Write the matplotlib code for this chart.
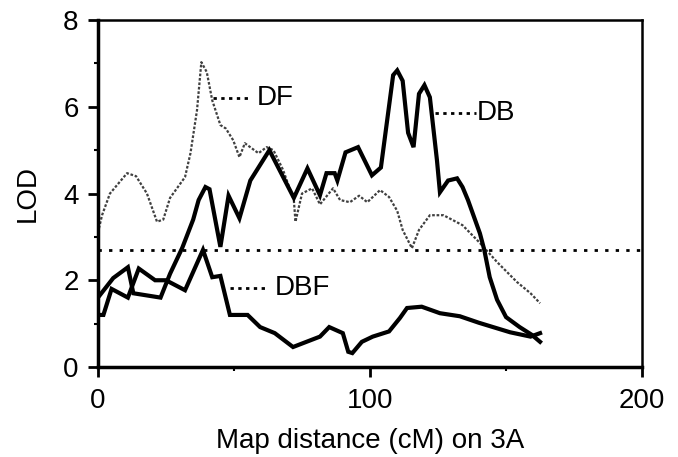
import matplotlib
matplotlib.use("Agg")
import matplotlib.pyplot as plt
from matplotlib.ticker import MultipleLocator

plt.rcParams['font.family'] = ['Liberation Sans', 'DejaVu Sans']

# ---- data ----
db_x = [0, 5.6, 11, 13, 23, 26.5, 31, 35, 37, 39.5, 41, 45, 48, 52, 56, 63, 72, 77, 81.6,
        84, 87, 88, 91, 95.6, 100.7, 104, 108.5, 110, 112, 114, 116, 118, 120, 122,
        124.6, 125.7, 128.7, 132, 134, 136, 140.4, 142, 144, 146.7, 150, 155, 159.5, 162.5]
db_y = [1.6, 2.05, 2.3, 1.7, 1.6, 2.15, 2.75, 3.4, 3.85, 4.15, 4.1, 2.77, 3.95, 3.43, 4.3,
        5.0, 3.9, 4.58, 3.96, 4.47, 4.47, 4.3, 4.95, 5.07, 4.42, 4.6, 6.73, 6.84, 6.6,
        5.4, 5.07, 6.3, 6.5, 6.22, 4.77, 4.03, 4.3, 4.35, 4.15, 3.85, 3.08, 2.7, 2.07,
        1.55, 1.15, 0.92, 0.74, 0.58]

dbf_x = [0, 2, 5, 11, 15, 21, 25, 32, 38.6, 42, 45, 48.5, 55, 59.6, 65, 71.7, 75.4, 81.6,
         85, 90, 92, 93.5, 97, 101, 107, 111, 113.6, 119, 125.7, 133, 140, 151.5, 159, 162.5]
dbf_y = [1.2, 1.2, 1.8, 1.6, 2.27, 2.0, 2.0, 1.77, 2.7, 2.07, 2.1, 1.2, 1.2, 0.92, 0.78,
         0.46, 0.55, 0.7, 0.92, 0.78, 0.35, 0.32, 0.58, 0.7, 0.82, 1.13, 1.36, 1.39, 1.24,
         1.17, 1.02, 0.8, 0.7, 0.78]

df_x = [0, 1.5, 4.4, 10.7, 14, 18, 21.7, 24, 26.5, 32, 34, 36.4, 38, 40, 42, 45, 47, 49.7,
        52, 54, 59, 62, 64.5, 68, 72, 72.6, 75, 78.7, 81.6, 86.4, 89, 92.6, 96, 99, 103.7,
        107, 110, 112, 115.4, 118, 122, 127, 134, 140.4, 146.7, 154, 159, 162.5]
df_y = [3.1, 3.5, 4.0, 4.47, 4.4, 4.0, 3.35, 3.4, 3.9, 4.38, 4.93, 5.92, 7.03, 6.8, 6.15,
        5.58, 5.5, 5.23, 4.84, 5.16, 4.93, 5.07, 5.0, 4.55, 3.85, 3.35, 4.0, 4.12, 3.75,
        4.12, 3.85, 3.8, 3.95, 3.8, 4.08, 3.92, 3.6, 3.16, 2.74, 3.16, 3.5, 3.5, 3.27,
        2.86, 2.42, 1.96, 1.7, 1.47]

threshold = 2.7

labels = ["DF", "DB", "DBF"]
label_leader_x = [(42.3, 55.1), (123.9, 139.0), (48.5, 62.1)]
label_y = [6.2, 5.85, 1.82]
label_text_x = [58.5, 139.3, 65.0]

# ---- figure ----
FS = 20
fig = plt.figure(figsize=(6.78, 4.57), dpi=100)
ax = fig.add_axes([0.1445, 0.197, 0.8025, 0.759])

ax.axhline(threshold, color='black', lw=2, linestyle=(0, (1.2, 2.6)))
ax.plot(df_x, df_y, color='0.25', lw=1.6, linestyle=(0, (1.2, 0.8)))
ax.plot(dbf_x, dbf_y, color='black', lw=3.0, solid_joinstyle='miter')
ax.plot(db_x, db_y, color='black', lw=3.0, solid_joinstyle='miter')

for lab, (x0, x1), ly, tx in zip(labels, label_leader_x, label_y, label_text_x):
    ax.plot([x0, x1], [ly, ly], color='black', lw=2, linestyle=(0, (1.2, 1.6)))
    ax.text(tx, ly, lab, fontsize=FS, va='center', ha='left')

ax.set_xlim(0, 200)
ax.set_ylim(0, 8)
ax.xaxis.set_major_locator(MultipleLocator(100))
ax.xaxis.set_minor_locator(MultipleLocator(50))
ax.yaxis.set_major_locator(MultipleLocator(2))
ax.yaxis.set_minor_locator(MultipleLocator(1))
ax.tick_params(which='major', direction='out', length=7, width=2, labelsize=FS)
ax.tick_params(axis='x', which='major', pad=8)
ax.tick_params(axis='y', which='major', pad=7)
ax.tick_params(which='minor', direction='out', length=3, width=1.5)

for side in ['left', 'bottom']:
    ax.spines[side].set_linewidth(2.5)
for side in ['top', 'right']:
    ax.spines[side].set_linewidth(1.8)

ax.set_xlabel("Map distance (cM) on 3A", fontsize=FS, labelpad=10)
ax.set_ylabel("LOD", fontsize=FS, labelpad=16)

fig.savefig("out.png", dpi=100)
